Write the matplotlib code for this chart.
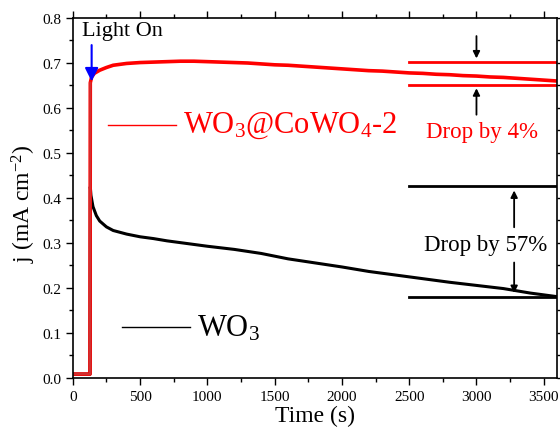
import matplotlib
matplotlib.use("Agg")
import matplotlib.pyplot as plt
from matplotlib.ticker import MultipleLocator

plt.rcParams['font.family'] = ['Liberation Serif', 'DejaVu Serif']
plt.rcParams['mathtext.fontset'] = 'custom'
plt.rcParams['mathtext.rm'] = 'Liberation Serif'
plt.rcParams['mathtext.it'] = 'Liberation Serif'

# ---- data ----
t_cowo = [0, 128, 130, 140, 160, 200, 250, 300, 400, 500, 600, 700, 800, 900,
          1000, 1100, 1200, 1300, 1400, 1500, 1600, 1700, 1800, 1900, 2000,
          2100, 2200, 2300, 2400, 2500, 2600, 2700, 2800, 2900, 3000, 3100,
          3200, 3300, 3400, 3500, 3600]
j_cowo = [0.008, 0.008, 0.655, 0.668, 0.676, 0.683, 0.689, 0.694, 0.698, 0.700,
          0.701, 0.702, 0.703, 0.703, 0.702, 0.701, 0.700, 0.699, 0.697, 0.695,
          0.694, 0.692, 0.690, 0.688, 0.686, 0.684, 0.682, 0.681, 0.679, 0.677,
          0.676, 0.674, 0.673, 0.671, 0.670, 0.668, 0.667, 0.665, 0.663, 0.661,
          0.659]

t_wo3 = [0, 128, 130, 135, 150, 175, 200, 250, 300, 400, 500, 600, 700, 800,
         900, 1000, 1200, 1400, 1600, 1800, 2000, 2200, 2400, 2600, 2800, 3000,
         3200, 3400, 3600]
j_wo3 = [0.008, 0.008, 0.424, 0.405, 0.380, 0.360, 0.348, 0.335, 0.327, 0.319,
         0.313, 0.309, 0.304, 0.300, 0.296, 0.292, 0.285, 0.276, 0.264, 0.255,
         0.246, 0.236, 0.228, 0.220, 0.212, 0.205, 0.198, 0.188, 0.180]

ref_red = [0.701, 0.651]
ref_black = [0.425, 0.179]
x_ticks = [0, 500, 1000, 1500, 2000, 2500, 3000, 3500]
y_ticks = [0.0, 0.1, 0.2, 0.3, 0.4, 0.5, 0.6, 0.7, 0.8]

fig = plt.figure(figsize=(5.6, 4.35), dpi=100)
ax = fig.add_axes([0.130, 0.1294, 0.865, 0.828])

ax.plot(t_wo3, j_wo3, color='black', lw=2.2, solid_joinstyle='round')
ax.plot(t_cowo, j_cowo, color='red', lw=2.6, solid_joinstyle='round')
ax.plot(t_cowo[:3], j_cowo[:3], color='#d03030', lw=1.6)

# reference lines
for y in ref_red:
    ax.plot([2500, 3600], [y, y], color='red', lw=2)
for y in ref_black:
    ax.plot([2500, 3600], [y, y], color='black', lw=2)

# arrows for red drop
arr = dict(arrowstyle='-|>', color='black', lw=1.3, mutation_scale=10)
ax.annotate('', xy=(3000, 0.703), xytext=(3000, 0.765), arrowprops=arr)
ax.annotate('', xy=(3000, 0.649), xytext=(3000, 0.578), arrowprops=arr)
ax.text(3040, 0.546, 'Drop by 4%', color='red', fontsize=16.5,
        ha='center', va='center')

# arrows for black drop
ax.annotate('', xy=(3280, 0.422), xytext=(3280, 0.328), arrowprops=arr)
ax.annotate('', xy=(3280, 0.182), xytext=(3280, 0.262), arrowprops=arr)
ax.text(3070, 0.295, 'Drop by 57%', color='black', fontsize=16.5,
        ha='center', va='center')

# Light On
ax.annotate('', xy=(140, 0.652), xytext=(140, 0.745),
            arrowprops=dict(arrowstyle='-|>', color='blue', lw=1.5,
                            mutation_scale=20))
ax.text(65, 0.772, 'Light On', fontsize=16, ha='left', va='center')

# legend-like labels
ax.plot([260, 765], [0.561, 0.561], color='red', lw=1)
ax.text(820, 0.561, r'WO$_3$@CoWO$_4$-2', color='red', fontsize=22,
        ha='left', va='center')
ax.plot([364, 870], [0.112, 0.112], color='black', lw=1)
ax.text(920, 0.112, r'WO$_3$', color='black', fontsize=22,
        ha='left', va='center')

ax.set_xlim(0, 3600)
ax.set_ylim(0, 0.8)
ax.set_xticks(x_ticks)
ax.set_yticks(y_ticks)
ax.set_yticklabels([f'{v:.1f}' for v in y_ticks])
ax.xaxis.set_minor_locator(MultipleLocator(250))
ax.yaxis.set_minor_locator(MultipleLocator(0.05))
ax.tick_params(which='both', direction='out', labelsize=11, top=True, right=True,
               width=1)
ax.tick_params(which='major', length=5)
ax.tick_params(which='minor', length=3)
for s in ax.spines.values():
    s.set_linewidth(1.2)

ax.set_xlabel('Time (s)', fontsize=17, labelpad=2)
ax.set_ylabel(r'j (mA cm$^{-2}$)', fontsize=17, labelpad=0)
ax.yaxis.set_label_coords(-0.072, 0.487)

fig.savefig('out.png', dpi=100)
